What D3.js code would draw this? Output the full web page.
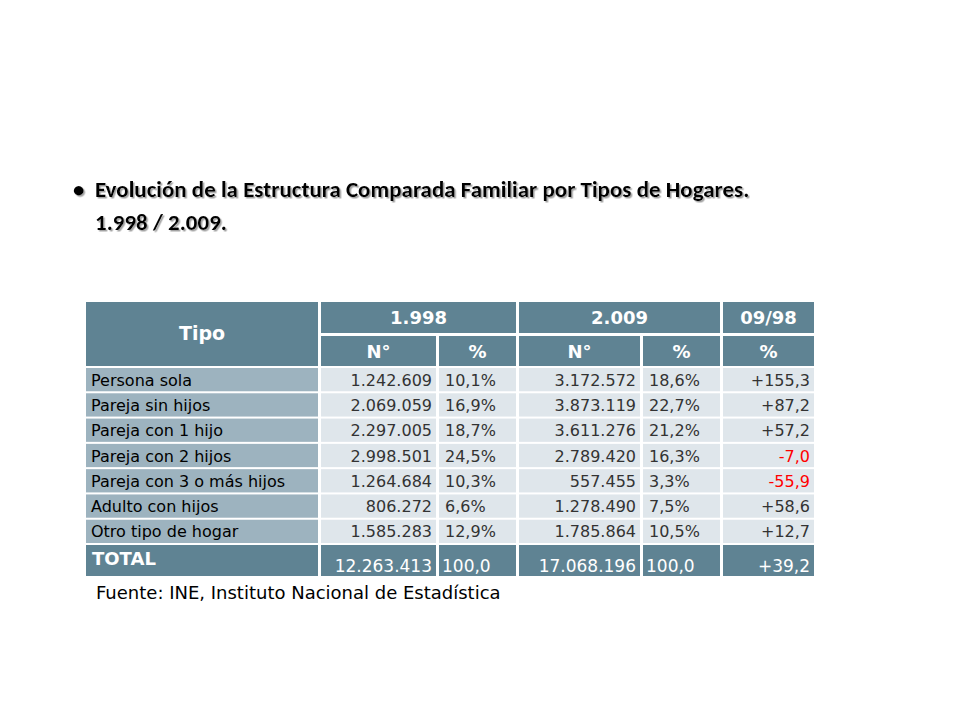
<!DOCTYPE html>
<html><head><meta charset="utf-8">
<script src="https://cdn.jsdelivr.net/npm/d3@7"></script>
<style>body{margin:0;background:#fff}</style></head>
<body><svg id="c" width="960" height="720">
<defs><filter id="sh" x="-5%" y="-20%" width="110%" height="150%"><feDropShadow dx="1.5" dy="1.5" stdDeviation="0.6" flood-color="#999" flood-opacity="0.9"/></filter></defs>
</svg>
<script>
const categories=["Persona sola","Pareja sin hijos","Pareja con 1 hijo","Pareja con 2 hijos","Pareja con 3 o más hijos","Adulto con hijos","Otro tipo de hogar"];
const n1998=["1.242.609","2.069.059","2.297.005","2.998.501","1.264.684","806.272","1.585.283"];
const p1998=["10,1%","16,9%","18,7%","24,5%","10,3%","6,6%","12,9%"];
const n2009=["3.172.572","3.873.119","3.611.276","2.789.420","557.455","1.278.490","1.785.864"];
const p2009=["18,6%","22,7%","21,2%","16,3%","3,3%","7,5%","10,5%"];
const change=["+155,3","+87,2","+57,2","-7,0","-55,9","+58,6","+12,7"];
const total=["TOTAL","12.263.413","100,0","17.068.196","100,0","+39,2"];
const years=["1.998","2.009","09/98"];

const svg=d3.select("#c");
const HDR="#5f8393",LAB="#9db3bf",CELL="#dfe6eb";
const xb=[86,321,439,519,643,723], xe=[318,436,516,640,720,814];
const f="Verdana, 'DejaVu Sans', sans-serif";
// title
const t=svg.append("g").attr("font-family","Carlito, Calibri, 'Liberation Sans', sans-serif").attr("font-weight","bold").attr("font-size",23).attr("filter","url(#sh)");
t.append("text").attr("x",73).attr("y",197).text("•");
t.append("text").attr("x",95).attr("y",197).text("Evolución de la Estructura Comparada Familiar por Tipos de Hogares.");
t.append("text").attr("x",95).attr("y",230).text("1.998 / 2.009.");
// header
const g=svg.append("g").attr("font-family",f);
g.append("rect").attr("x",86).attr("y",302).attr("width",232).attr("height",64).attr("fill",HDR);
g.append("text").attr("x",202).attr("y",340).attr("text-anchor","middle").attr("fill","#fff").attr("font-weight","bold").attr("font-size",19).text("Tipo");
const spans=[[1,2],[3,4],[5,5]];
spans.forEach(([a,b],i)=>{
 g.append("rect").attr("x",xb[a]).attr("y",302).attr("width",xe[b]-xb[a]).attr("height",31).attr("fill",HDR);
 g.append("text").attr("x",(xb[a]+xe[b])/2).attr("y",324).attr("text-anchor","middle").attr("fill","#fff").attr("font-weight","bold").attr("font-size",18).text(years[i]);
});
["N°","%","N°","%","%"].forEach((s,i)=>{
 const c=i+1;
 g.append("rect").attr("x",xb[c]).attr("y",336).attr("width",xe[c]-xb[c]).attr("height",30).attr("fill",HDR);
 g.append("text").attr("x",(xb[c]+xe[c])/2).attr("y",358).attr("text-anchor","middle").attr("fill","#fff").attr("font-weight","bold").attr("font-size",18).text(s);
});
const y=d3.scaleBand().domain(d3.range(7)).range([368,543]).paddingInner(0.08);
categories.forEach((cat,r)=>{
 const vals=[cat,n1998[r],p1998[r],n2009[r],p2009[r],change[r]];
 vals.forEach((v,c)=>{
  g.append("rect").attr("x",xb[c]).attr("y",y(r)).attr("width",xe[c]-xb[c]).attr("height",y.bandwidth()).attr("fill",c==0?LAB:CELL);
  const left=c==0||c==2||c==4;
  g.append("text").attr("x",c==0?xb[c]+5:(c==2||c==4)?xb[c]+6:xe[c]-4)
   .attr("y",y(r)+y.bandwidth()/2+6).attr("text-anchor",left?"start":"end")
   .attr("font-size",16).attr("fill",c==5&&v[0]=="-"?"#ff0000":(c==0?"#000":"#333")).text(v);
 });
});
total.forEach((v,c)=>{
 g.append("rect").attr("x",xb[c]).attr("y",545).attr("width",xe[c]-xb[c]).attr("height",31).attr("fill",HDR);
 const left=c==0||c==2||c==4;
 g.append("text").attr("x",c==0?xb[c]+6:(c==2||c==4)?xb[c]+3:xe[c]-4).attr("y",c==0?565:572)
  .attr("text-anchor",left?"start":"end").attr("fill","#fff").attr("font-size",c==0?18:17).attr("font-weight",c==0?"bold":"normal").text(v);
});
g.append("text").attr("x",96).attr("y",599).attr("font-size",18).attr("fill","#000").text("Fuente: INE, Instituto Nacional de Estadística");
</script></body></html>
